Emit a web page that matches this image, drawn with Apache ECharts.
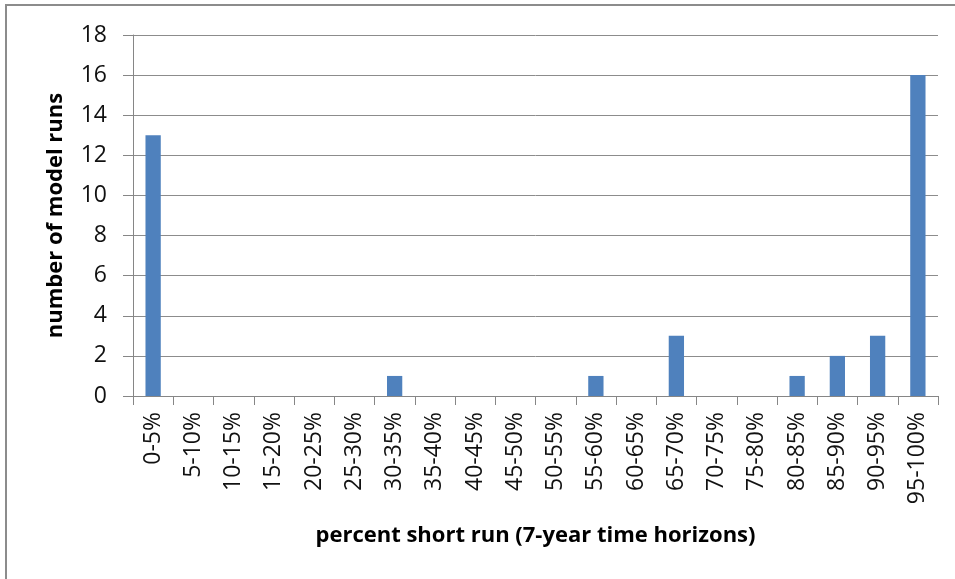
<!DOCTYPE html>
<html>
<head>
<meta charset="utf-8">
<script src="https://cdn.jsdelivr.net/npm/echarts@6/dist/echarts.min.js"></script>
<style>
html,body{margin:0;padding:0;background:#fff;}
#chart{width:955px;height:579px;}
</style>
</head>
<body>
<div id="chart"></div>
<script>
var categories = ['0-5%','5-10%','10-15%','15-20%','20-25%','25-30%','30-35%','35-40%','40-45%','45-50%','50-55%','55-60%','60-65%','65-70%','70-75%','75-80%','80-85%','85-90%','90-95%','95-100%'];
var modelRuns = [13,0,0,0,0,0,1,0,0,0,0,1,0,3,0,0,1,2,3,16];
var yTicks = [0,2,4,6,8,10,12,14,16,18];

var chart = echarts.init(document.getElementById('chart'), null, {renderer:'canvas'});
var font = '"Open Sans", "Liberation Sans", sans-serif';
chart.setOption({
  animation:false,
  graphic:[{
    type:'polyline',
    shape:{points:[[6,580],[6,5],[956,5]]},
    style:{stroke:'#8c8c8c', lineWidth:2, fill:null}
  }],
  grid:{left:133,right:17,top:35,bottom:183,containLabel:false},
  xAxis:{
    type:'category',
    data:categories,
    boundaryGap:true,
    name:'percent short run (7-year time horizons)',
    nameLocation:'middle',
    nameGap:129,
    nameTextStyle:{fontFamily:font,fontSize:22,fontWeight:'bold',color:'#000'},
    axisLine:{lineStyle:{color:'#868686',width:1}},
    axisTick:{show:true,length:9,lineStyle:{color:'#868686'}},
    axisLabel:{rotate:90,margin:16,fontFamily:font,fontSize:23,color:'#111',interval:0}
  },
  yAxis:{
    type:'value',
    min:yTicks[0],
    max:yTicks[yTicks.length-1],
    interval:2,
    name:'number of model runs',
    nameLocation:'middle',
    nameGap:66,
    nameTextStyle:{fontFamily:font,fontSize:22,fontWeight:'bold',color:'#000'},
    axisLine:{show:true,lineStyle:{color:'#868686',width:1}},
    axisTick:{show:true,length:10,lineStyle:{color:'#868686'}},
    splitLine:{show:true,lineStyle:{color:'#8c8c8c',width:1}},
    axisLabel:{margin:26,fontFamily:font,fontSize:23,color:'#111'}
  },
  series:[{
    type:'bar',
    data:modelRuns,
    barWidth:'38%',
    itemStyle:{color:'#4F81BD'}
  }]
});
</script>
</body>
</html>
